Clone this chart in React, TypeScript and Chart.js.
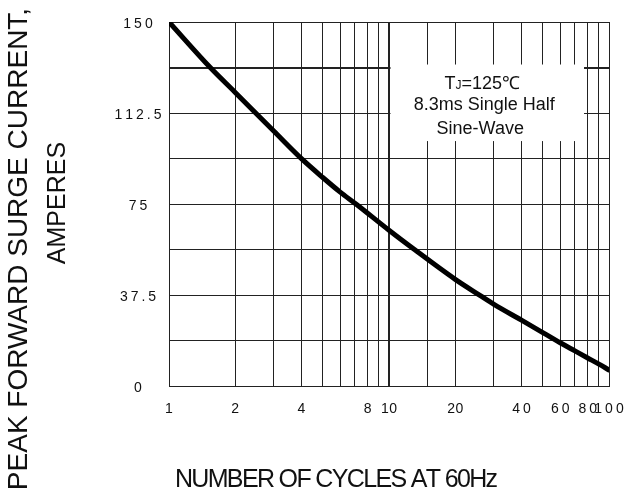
import React, { useEffect, useRef } from 'react';
import { Chart, registerables } from 'chart.js';

Chart.register(...registerables);

// ---- data ----
const cycles = [1, 1.54, 2, 3, 4, 5, 6, 7.1, 10, 13.1, 20, 25.9, 30, 40, 50, 60, 70, 80, 90, 100];
const current = [150, 131.25, 121, 105, 93.75, 86, 80, 75, 64.3, 56.25, 44.1, 37.5, 33.8, 27.3, 22.2, 18, 14.65, 11.75, 9.2, 6.8];
const xTickLabels = [1, 2, 4, 8, 10, 20, 40, 60, 80, 100];
const xWideLabels = [40, 60, 80, 100];
const yTickLabels = [0, 37.5, 75, 112.5, 150];
const yGridStep = 18.75;
const yHeavyLine = 131.25;
const xHeavyLine = 10;
const xTitle = 'NUMBER OF CYCLES AT 60Hz';
const yTitleLines = ['PEAK FORWARD SURGE CURRENT,', 'AMPERES'];
const noteLines = ['=125\u2103', '8.3ms Single Half', 'Sine-Wave'];

const FONT = '"Liberation Sans", Arial, Helvetica, sans-serif';

function drawSpaced(ctx: CanvasRenderingContext2D, text: string, cx: number, baseline: number, spacing: number) {
  const chars = Array.from(text);
  const widths = chars.map((c) => ctx.measureText(c).width);
  const total = widths.reduce((a, b) => a + b, 0) + spacing * (chars.length - 1);
  let x = cx - total / 2;
  ctx.textAlign = 'left';
  chars.forEach((c, i) => {
    ctx.fillText(c, x, baseline);
    x += widths[i] + spacing;
  });
}

const overlay = {
  id: 'overlay',
  beforeDatasetsDraw(chart: any) {
    const { ctx } = chart;
    const x = chart.scales.x;
    const y = chart.scales.y;
    const left = x.getPixelForValue(10) + 1.5;
    const right = x.getPixelForValue(77);
    const top = y.getPixelForValue(132.5);
    const bottom = y.getPixelForValue(101);
    ctx.save();
    ctx.fillStyle = '#ffffff';
    ctx.fillRect(left, top, right - left, bottom - top);
    ctx.fillStyle = '#111';
    ctx.textBaseline = 'alphabetic';
    const cx = (left + right) / 2 - 5;
    // line 1: T with small J, then "=125℃"
    ctx.font = `18px ${FONT}`;
    const wT = ctx.measureText('T').width;
    const wRest = ctx.measureText(noteLines[0]).width;
    ctx.font = `12px ${FONT}`;
    const wJ = ctx.measureText('J').width;
    let sx = cx - (wT + wJ + wRest) / 2;
    const b1 = top + 24;
    ctx.textAlign = 'left';
    ctx.font = `18px ${FONT}`;
    ctx.fillText('T', sx, b1);
    sx += wT;
    ctx.font = `12px ${FONT}`;
    ctx.fillText('J', sx, b1);
    sx += wJ;
    ctx.font = `18px ${FONT}`;
    ctx.fillText(noteLines[0], sx, b1);
    ctx.textAlign = 'center';
    ctx.fillText(noteLines[1], cx + 2, top + 45.7);
    ctx.fillText(noteLines[2], cx - 2, top + 69);
    ctx.restore();
  },
  afterDraw(chart: any) {
    const { ctx, chartArea } = chart;
    const x = chart.scales.x;
    const y = chart.scales.y;
    ctx.save();
    ctx.fillStyle = '#111';
    ctx.textBaseline = 'alphabetic';
    // y tick labels
    ctx.font = `14px ${FONT}`;
    yTickLabels.forEach((v) => {
      drawSpaced(ctx, String(v), chartArea.left - 31, y.getPixelForValue(v) + 5.5, 3);
    });
    // x tick labels
    xTickLabels.forEach((v) => {
      const sp = xWideLabels.includes(v) ? 3 : 0.5;
      drawSpaced(ctx, String(v), x.getPixelForValue(v), chartArea.bottom + 26.5, sp);
    });
    // x title
    ctx.font = `25px ${FONT}`;
    drawSpaced(ctx, xTitle, 336.5, 486.7, -1.65);
    // y title
    ctx.textAlign = 'center';
    ctx.font = `28px ${FONT}`;
    ctx.save();
    ctx.translate(27, 249);
    ctx.rotate(-Math.PI / 2);
    ctx.fillText(yTitleLines[0], 0, 0);
    ctx.restore();
    ctx.font = `25px ${FONT}`;
    ctx.save();
    ctx.translate(65, 203);
    ctx.rotate(-Math.PI / 2);
    ctx.fillText(yTitleLines[1], 0, 0);
    ctx.restore();
    ctx.restore();
  },
};

export default function App() {
  const ref = useRef<HTMLCanvasElement | null>(null);
  useEffect(() => {
    if (!ref.current) return;
    const chart = new Chart(ref.current, {
      type: 'line',
      data: {
        datasets: [
          {
            data: cycles.map((c, i) => ({ x: c, y: current[i] })),
            borderColor: '#000',
            borderWidth: 5,
            borderCapStyle: 'round',
            borderJoinStyle: 'round',
            pointRadius: 0,
            cubicInterpolationMode: 'monotone',
            fill: false,
          },
        ],
      },
      options: {
        responsive: false,
        animation: false,
        devicePixelRatio: 1,
        layout: { padding: { left: 169, right: 26, top: 22, bottom: 105.5 } },
        plugins: { legend: { display: false }, tooltip: { enabled: false }, title: { display: false } },
        scales: {
          x: {
            type: 'logarithmic',
            min: 1,
            max: 100,
            border: { display: false },
            grid: {
              drawTicks: false,
              color: '#222',
              lineWidth: (c: any) => (c.tick && c.tick.value === xHeavyLine ? 2 : 1),
            },
            ticks: { display: false, autoSkip: false },
          },
          y: {
            type: 'linear',
            min: 0,
            max: 150,
            border: { display: false },
            grid: {
              drawTicks: false,
              color: '#222',
              lineWidth: (c: any) => (c.tick && Math.abs(c.tick.value - yHeavyLine) < 0.01 ? 2 : 1),
            },
            ticks: { display: false, stepSize: yGridStep, autoSkip: false },
          },
        },
      },
      plugins: [overlay],
    } as any);
    return () => chart.destroy();
  }, []);
  return (
    <div style={{ position: 'absolute', left: 0, top: 0, width: 635, height: 492, background: '#fff' }}>
      <canvas ref={ref} width={635} height={492} style={{ display: 'block' }} />
    </div>
  );
}
